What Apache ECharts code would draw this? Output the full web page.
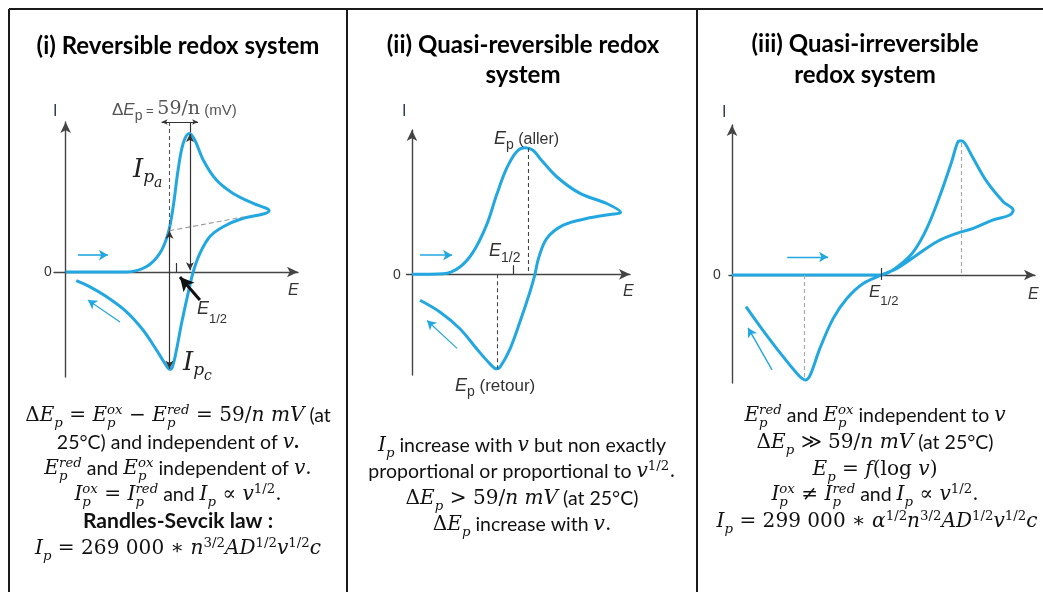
<!DOCTYPE html>
<html><head><meta charset="utf-8">
<script src="https://cdn.jsdelivr.net/npm/echarts@6/dist/echarts.min.js"></script>
<style>html,body{margin:0;padding:0;background:#fff}#c{width:1043px;height:592px}</style>
</head><body><div id="c"></div>
<script>
// ---------------- data (E, I) in arbitrary units ----------------
const fwd1 = [[0,0],[2.61,0],[3.47,0.35],[4.05,1.24],[4.41,2.58],[4.63,4.36],[4.84,6.8],[5.06,8.58],[5.32,9.24],[5.56,8.8],[5.92,7.47],[6.49,6.13],[7.21,5.24],[8.07,4.58],[8.65,4.24],[8.76,4.09]];
const ret1 = [[8.5,3.87],[7.64,3.58],[6.78,3.02],[6.21,2.36],[5.78,1.24],[5.49,0],[5.27,-1.42],[4.99,-3.42],[4.77,-5.2],[4.6,-6.31],[4.48,-6.49],[4.27,-6.09],[3.91,-5.2],[3.33,-3.87],[2.61,-2.64],[1.75,-1.64],[1.03,-0.98],[0.46,-0.58]];
const fwd2 = [[0,0],[1.44,0.04],[2.2,0.49],[2.81,1.49],[3.42,3.27],[3.88,5.27],[4.34,7.04],[4.8,8.16],[5.2,8.42],[5.55,8.25],[5.87,7.71],[6.64,6.49],[7.71,5.38],[8.93,4.71],[9.57,4.11]];
const ret2 = [[9.08,3.98],[8.01,3.71],[6.94,3.27],[6.18,2.38],[5.8,1.04],[5.64,0],[5.41,-1.18],[4.95,-3.18],[4.5,-4.96],[4.04,-6.18],[3.88,-6.29],[3.58,-5.96],[2.97,-4.96],[2.2,-3.62],[1.28,-2.51],[0.37,-1.73]];
const fwd3 = [[0,0],[4.0,0],[4.78,0],[5.1,0.1],[5.54,0.67],[5.99,1.56],[6.43,3.11],[6.87,5.33],[7.25,7.56],[7.45,8.85],[7.56,8.95],[7.68,8.8],[7.96,7.78],[8.41,6.22],[8.95,4.89],[9.28,4.33]];
const ret3 = [[9.17,4.0],[8.62,3.67],[7.96,3.11],[7.42,2.78],[6.76,2.22],[6.1,1.33],[5.44,0.44],[4.94,0],[4.33,-0.56],[3.79,-1.56],[3.34,-2.89],[2.9,-4.89],[2.58,-6.67],[2.42,-7.0],[2.19,-6.67],[1.47,-4.89],[0.93,-3.44],[0.46,-2.11]];

// annotation segments [p1, p2]
const ann1Dash = [[[4.47,10],[4.47,2.75]]];
const ann1Base = [[[4.47,2.75],[7.65,3.67]]];
const ann1Dbl = [[[4.47,2.75],[4.47,-6.45]],[[5.35,9.2],[5.35,0.12]]];
const ann1Thin = [[[5.35,10],[5.35,9.3]],[[4.78,0],[4.78,0.6]]];
const ann1Dim = [[[4.13,10],[5.7,10]]];
const ann1E12 = [[[5.78,-1.87],[4.92,-0.33]]];
const dir1 = [[[0.53,1.13],[1.82,1.13]],[[2.34,-3.33],[0.96,-1.87]]];

const ann2Dash = [[[5.34,8.4],[5.34,0]],[[3.89,0],[3.89,-6.27]]];
const ann2Thin = [[[4.65,0],[4.65,0.6]]];
const dir2 = [[[0.37,1.27],[1.84,1.27]],[[2.07,-4.93],[0.69,-3.07]]];

const ann3Dash = [[[7.55,8.8],[7.55,0]],[[2.39,0],[2.39,-6.87]]];
const ann3Thin = [[[4.94,0.47],[4.94,-0.33]]];
const dir3 = [[[1.82,1.2],[3.17,1.2]],[[1.32,-6.33],[0.53,-3.53]]];

// ---------------- text ----------------
const titles = [
  {x:178,y:56,items:[['(i) Reversible redox system','cb']]},
  {x:523,y:55,items:[['(ii) Quasi-reversible redox','cb']]},
  {x:523,y:85,items:[['system','cb']]},
  {x:865,y:54,items:[['(iii) Quasi-irreversible','cb']]},
  {x:865,y:85,items:[['redox system','cb']]}
];
const body = [
  {x:178,y:423,items:[['Δ','mu'],['E','m'],['p','m','_'],[' = ','mu'],['E','m'],['p|ox','m','_^'],[' − ','mu'],['E','m'],['p|red','m','_^'],[' = 59/','mu'],['n','m'],[' ','mu'],['mV','m'],[' (at','c']]},
  {x:178,y:450,items:[['25°C) and independent of ','c'],['v','m'],['.','cb']]},
  {x:178,y:476,items:[['E','m'],['p|red','m','_^'],[' and ','c'],['E','m'],['p|ox','m','_^'],[' independent of ','c'],['v','m'],['.','mu']]},
  {x:178,y:502,items:[['I','m'],['p|ox','m','_^'],[' = ','mu'],['I','m'],['p|red','m','_^'],[' and ','c'],['I','m'],['p','m','_'],[' ∝ ','mu'],['v','m'],['1/2','mu','^'],['.','mu']]},
  {x:178,y:530,items:[['Randles-Sevcik law :','cb']]},
  {x:178,y:556,items:[['I','m'],['p','m','_'],[' = 269 000 ∗ ','mu'],['n','m'],['3/2','mu','^'],['AD','m'],['1/2','mu','^'],['v','m'],['1/2','mu','^'],['c','m']]},

  {x:522,y:453,items:[['I','m'],['p','m','_'],[' increase with ','c'],['v','m'],[' but non exactly','c']]},
  {x:522,y:479,items:[['proportional or proportional to ','c'],['v','m'],['1/2','mu','^'],['.','mu']]},
  {x:522,y:506,items:[['Δ','mu'],['E','m'],['p','m','_'],[' > 59/','mu'],['n','m'],[' ','mu'],['mV','m'],[' (at 25°C)','c']]},
  {x:522,y:532,items:[['Δ','mu'],['E','m'],['p','m','_'],[' increase with ','c'],['v','m'],['.','mu']]},

  {x:875,y:423,items:[['E','m'],['p|red','m','_^'],[' and ','c'],['E','m'],['p|ox','m','_^'],[' independent to ','c'],['v','m']]},
  {x:875,y:450,items:[['Δ','mu'],['E','m'],['p','m','_'],[' ≫ 59/','mu'],['n','m'],[' ','mu'],['mV','m'],[' (at 25°C)','c']]},
  {x:875,y:477,items:[['E','m'],['p','m','_'],[' = ','mu'],['f','m'],['(log ','mu'],['v','m'],[')','mu']]},
  {x:875,y:502,items:[['I','m'],['p|ox','m','_^'],[' ≠ ','mu'],['I','m'],['p|red','m','_^'],[' and ','c'],['I','m'],['p','m','_'],[' ∝ ','mu'],['v','m'],['1/2','mu','^'],['.','mu']]},
  {x:877,y:529,items:[['I','m'],['p','m','_'],[' = 299 000 ∗ ','mu'],['α','m'],['1/2','mu','^'],['n','m'],['3/2','mu','^'],['AD','m'],['1/2','mu','^'],['v','m'],['1/2','mu','^'],['c','m']]}
];
const plotLabels = [
  {x:53,y:117,fs:16,color:'#2e3a48',items:[['I','s']]},
  {x:44,y:277,fs:14,items:[['0','s']]},
  {x:288,y:296,fs:16,items:[['E','si']]},
  {x:112,y:116,fs:17,color:'#555',items:[['Δ','s'],['E','si'],['p','s','x',14,5],[' = ','s','',13],['59/n','mu','',19],[' (mV)','s','',15]]},
  {x:133,y:179,fs:25,color:'#222',items:[['I','m'],['p','m','x',17,5],['a','m','x',14,9]]},
  {x:183,y:372,fs:25,color:'#222',items:[['I','m'],['p','m','x',17,5],['c','m','x',14,9]]},
  {x:197,y:315,fs:18,items:[['E','si'],['1/2','s','x',13,9]]},

  {x:402,y:117,fs:16,color:'#2e3a48',items:[['I','s']]},
  {x:393,y:280,fs:14,items:[['0','s']]},
  {x:623,y:297,fs:16,items:[['E','si']]},
  {x:489,y:257,fs:18,items:[['E','si'],['1/2','s','x',14,6]]},
  {x:494,y:145,fs:18,items:[['E','si'],['p','s','x',14,5],[' (aller)','s','',16]]},
  {x:455,y:392,fs:18,items:[['E','si'],['p','s','x',14,5],[' (retour)','s','',17]]},

  {x:722,y:118,fs:16,color:'#2e3a48',items:[['I','s']]},
  {x:713,y:280,fs:14,items:[['0','s']]},
  {x:1028,y:300,fs:16,items:[['E','si']]},
  {x:869,y:298,fs:17,items:[['E','si'],['1/2','s','x',13,8]]}
];

// ---------------- typesetting helper ----------------
const cv = document.createElement('canvas').getContext('2d');
const FAM = {c:'Lato', cb:'Lato', m:'"DejaVu Serif"', mu:'"DejaVu Serif"', s:'"Liberation Sans"', si:'"Liberation Sans"'};
const SCALE = {c:1, cb:1.08, m:1.03, mu:1.03, s:1, si:1};
function fontOf(key,size){
  const st = (key==='m'||key==='si')?'italic ':'';
  const wt = key==='cb'?'bold ':'';
  return st+wt+size.toFixed(1)+'px '+FAM[key];
}
function midOff(font,size){
  cv.font=font; cv.textBaseline='alphabetic';
  const m=cv.measureText('Hxg');
  if(m.fontBoundingBoxAscent!==undefined) return (m.fontBoundingBoxAscent-m.fontBoundingBoxDescent)/2;
  return size*0.33;
}
function wOf(font,t){cv.font=font;return cv.measureText(t).width;}
function layout(L, defFs, defColor, align, out, sc){
  const fs=L.fs||defFs; const pieces=[]; let cx=0;
  for(const it of L.items){
    const t=it[0], key=it[1], pos=it[2]||'';
    const base=fs*((sc&&sc[key])||SCALE[key]);
    if(pos===''){ const s=it[3]||base; const f=fontOf(key,s); pieces.push({t,f,s,dx:cx,dy:0}); cx+=wOf(f,t); }
    else if(pos==='x'){ const s=it[3]; const f=fontOf(key,s); pieces.push({t,f,s,dx:cx,dy:it[4]}); cx+=wOf(f,t); }
    else if(pos==='^'){ const s=base*0.66; const f=fontOf(key,s); pieces.push({t,f,s,dx:cx,dy:-base*0.4}); cx+=wOf(f,t); }
    else if(pos==='_'){ const s=base*0.66; const f=fontOf(key,s); pieces.push({t,f,s,dx:cx,dy:base*0.26}); cx+=wOf(f,t); }
    else if(pos==='_^'){ const ab=t.split('|'); const s=base*0.66; const f=fontOf(key,s);
      pieces.push({t:ab[0],f,s,dx:cx,dy:base*0.26}); pieces.push({t:ab[1],f,s,dx:cx,dy:-base*0.42});
      cx+=Math.max(wOf(f,ab[0]),wOf(f,ab[1])); }
  }
  const x0 = align==='left'? L.x : L.x - cx/2;
  for(const p of pieces){
    out.push({type:'text', x:x0+p.dx, y:L.y+p.dy-midOff(p.f,p.s), silent:true, z:100,
      style:{text:p.t, font:p.f, fill:L.color||defColor, align:'left', verticalAlign:'middle'}});
  }
}
const graphics = [];
// frame
const FR='#1a1a1a';
[[9,9,1043,9],[9,9,9,592],[347,9,347,592],[697,9,697,592]].forEach(s=>graphics.push({type:'line',silent:true,z:50,shape:{x1:s[0],y1:s[1],x2:s[2],y2:s[3]},style:{stroke:FR,lineWidth:2}}));
titles.forEach(L=>layout(L,24,'#000','center',graphics,{cb:1}));
body.forEach(L=>layout(L,19.5,'#111','center',graphics));
plotLabels.forEach(L=>layout(L,15,'#333','left',graphics));

// ---------------- chart ----------------
const BLUE='#22a7e0';
function seg(p, o){
  return [{coord:p[0], symbol:o.s1||'none', symbolSize:o.ss||8,
           lineStyle:{color:o.c||'#333', width:o.w||1.2, type:o.t||'solid', curveness:o.cv||0}},
          {coord:p[1], symbol:o.s2||'none', symbolSize:o.ss||8}];
}
function ml(list){ return {silent:true, animation:false, symbol:['none','none'], label:{show:false}, emphasis:{disabled:true}, data:list}; }
function axX(i,min,max){return {gridIndex:i,type:'value',min,max,axisLine:{onZero:true,lineStyle:{color:'#444',width:1.4},symbol:['none','arrow'],symbolSize:[8,11]},axisTick:{show:false},axisLabel:{show:false},splitLine:{show:false}};}
function curve(i,data,marks){return {type:'line',xAxisIndex:i,yAxisIndex:i,data,smooth:0.35,symbol:'none',clip:false,silent:true,animation:false,lineStyle:{color:BLUE,width:3},markLine:ml(marks)};}

const marks1 = [].concat(
  ann1Dash.map(p=>seg(p,{c:'#555',t:[4,3],w:1.1})),
  ann1Base.map(p=>seg(p,{c:'#999',t:[5,3],w:1.1})),
  ann1Dbl.map(p=>seg(p,{c:'#333',w:1.2,s1:'arrow',s2:'arrow',ss:[6,8]})),
  ann1Thin.map(p=>seg(p,{c:'#333',w:1.2})),
  ann1Dim.map(p=>seg(p,{c:'#333',w:1,s1:'arrow',s2:'arrow',ss:[4,6]})),
  ann1E12.map(p=>seg(p,{c:'#111',w:3,s2:'arrow',ss:[11,14]})),
  [seg(dir1[0],{c:BLUE,w:1.6,s2:'arrow',ss:[8,9]}), seg(dir1[1],{c:BLUE,w:1.2,s2:'arrow',ss:[8,9],cv:-0.15})]
);
const marks2 = [].concat(
  ann2Dash.map(p=>seg(p,{c:'#444',t:[4,3],w:1.1})),
  ann2Thin.map(p=>seg(p,{c:'#333',w:1.2})),
  [seg(dir2[0],{c:BLUE,w:1.6,s2:'arrow',ss:[8,9]}), seg(dir2[1],{c:BLUE,w:1.2,s2:'arrow',ss:[8,9],cv:-0.1})]
);
const marks3 = [].concat(
  ann3Dash.map(p=>seg(p,{c:'#aaa',t:[4,3],w:1.2})),
  ann3Thin.map(p=>seg(p,{c:'#333',w:1.2})),
  dir3.map(p=>seg(p,{c:BLUE,w:1.4,s2:'arrow',ss:[8,9]}))
);

const chart = echarts.init(document.getElementById('c'), null, {renderer:'canvas'});
chart.setOption({
  backgroundColor:'#fff',
  animation:false,
  grid:[
    {left:54, top:122, width:244, height:255},
    {left:406.5, top:130, width:223.5, height:245},
    {left:729, top:125, width:306, height:258}
  ],
  xAxis:[axX(0,-0.5,10), axX(1,-0.25,10), axX(2,-0.1,10)],
  yAxis:[axX(0,-7,10), axX(1,-6.7,9.6), axX(2,-7.2,10)].map(a=>Object.assign(a,{type:'value'})),
  series:[
    curve(0, fwd1.concat(ret1), marks1),
    curve(1, fwd2.concat(ret2), marks2),
    curve(2, fwd3.concat(ret3), marks3)
  ],
  graphic: graphics
});
</script></body></html>
